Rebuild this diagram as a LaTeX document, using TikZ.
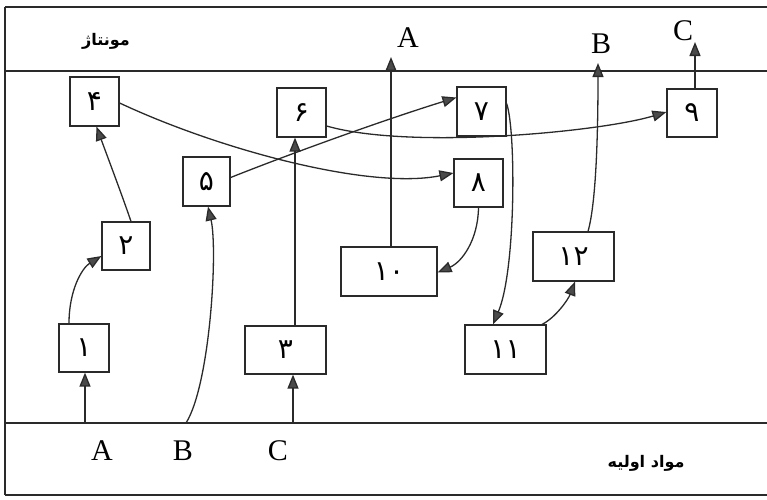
\documentclass[tikz,border=0pt]{standalone}
\usepackage{fontspec}
\setmainfont{Liberation Serif}
\newfontfamily\arabicfont[Script=Arabic]{DejaVu Sans}
\TeXXeTstate=1
\usetikzlibrary{arrows.meta,calc}
\definecolor{linec}{HTML}{2A2A2A}
\definecolor{tipc}{HTML}{4A4A4A}
\tikzset{
  stepbox/.style={draw=linec,line width=1.2pt,inner sep=0pt,fill=white,
    font=\arabicfont\fontsize{28}{28}\selectfont},
  arr/.style={draw=linec,line width=1.3pt,
    -{Triangle[length=14pt,width=11pt,fill=tipc]}},
  frame/.style={draw=linec,line width=1.1pt},
  letter/.style={font=\fontsize{30}{30}\selectfont,inner sep=0pt},
  fa/.style={font=\arabicfont\bfseries\fontsize{16}{16}\selectfont,inner sep=0pt}
}
\begin{document}
\begin{tikzpicture}[x=1pt,y=-1pt]
\useasboundingbox (0,0) rectangle (767,499);
% frame lines
\draw[frame] (5,7) -- (767,7);
\draw[frame] (5,71) -- (767,71);
\draw[frame] (5,423) -- (767,423);
\draw[frame] (5,495) -- (767,495);
\draw[frame] (5,7) -- (5,495);
% section labels
\node[fa] (lmont) at (106,41) {\beginR مونتاژ\endR};
\node[fa] (lmat) at (646,463) {\beginR مواد اولیه\endR};
% boxes
\node[stepbox,minimum width=49,minimum height=49] (n4) at (94.5,101.5) {۴};
\node[stepbox,minimum width=49,minimum height=49] (n6) at (301.5,112.5) {۶};
\node[stepbox,minimum width=47,minimum height=49] (n5) at (206.5,181.5) {۵};
\node[stepbox,minimum width=49,minimum height=49] (n7) at (481.5,111.5) {۷};
\node[stepbox,minimum width=49,minimum height=48] (n8) at (478.5,183) {۸};
\node[stepbox,minimum width=50,minimum height=48] (n9) at (692,113) {۹};
\node[stepbox,minimum width=48,minimum height=48] (n2) at (126,246) {۲};
\node[stepbox,minimum width=50,minimum height=48] (n1) at (84,348) {۱};
\node[stepbox,minimum width=81,minimum height=48] (n3) at (285.5,350) {۳};
\node[stepbox,minimum width=96,minimum height=49] (n10) at (389,271.5) {۱۰};
\node[stepbox,minimum width=81,minimum height=49] (n11) at (505.5,349.5) {۱۱};
\node[stepbox,minimum width=81,minimum height=49] (n12) at (573.5,256.5) {۱۲};
% letters
\node[letter] (tA) at (408,38) {A};
\node[letter] (tB) at (601,44) {B};
\node[letter] (tC) at (683,31) {C};
\node[letter] (bA) at (102,451) {A};
\node[letter] (bB) at (183,451) {B};
\node[letter] (bC) at (278,451) {C};
% free ends
\coordinate (inA) at (85,423);
\coordinate (inB) at (186,423);
\coordinate (inC) at (293,423);
\coordinate (outA) at (391,57);
\coordinate (outB) at (598,63);
\coordinate (outC) at (695,42);
% connectors
\draw[arr] (inA) -- (inA |- n1.south);
\draw[arr] ($(n1.north)+(-15,0)$) .. controls (69,290) and (82,268) .. ($(n2.west)+(0,10)$);
\draw[arr] ($(n2.north)+(5,0)$) .. controls (122,195) and (105,150) .. ($(n4.south)+(2,0)$);
\draw[arr] ($(n4.east)+(0,1.5)$) .. controls (220,150) and (370,190) .. ($(n8.west)+(0,-10)$);
\draw[arr] ($(n5.east)+(0,-4)$) .. controls (300,150) and (390,118) .. ($(n7.west)+(0,-14)$);
\draw[arr] ($(n6.east)+(0,13.5)$) .. controls (410,150) and (600,132) .. ($(n9.west)+(0,-1)$);
\draw[arr] (inB) .. controls (210,385) and (218,250) .. ($(n5.south)+(1.5,0)$);
\draw[arr] (inC) -- (inC |- n3.south);
\draw[arr] ($(n3.north)+(9.5,0)$) -- ($(n6.south)+(-6.5,0)$);
\draw[arr] ($(n10.north)+(2,0)$) -- (outA);
\draw[arr] (n8.south) .. controls (478,240) and (462,262) .. ($(n10.east)+(0,1)$);
\draw[arr] ($(n7.east)+(0,-8)$) .. controls (516,130) and (516,270) .. ($(n11.north)+(-12.5,0)$);
\draw[arr] ($(n11.north)+(36.5,0)$) .. controls (555,318) and (568,300) .. ($(n12.south)+(1.5,0)$);
\draw[arr] ($(n12.north)+(14.5,0)$) .. controls (597,200) and (598,120) .. (outB);
\draw[arr] ($(n9.north)+(3,0)$) -- (outC);
\end{tikzpicture}
\end{document}
